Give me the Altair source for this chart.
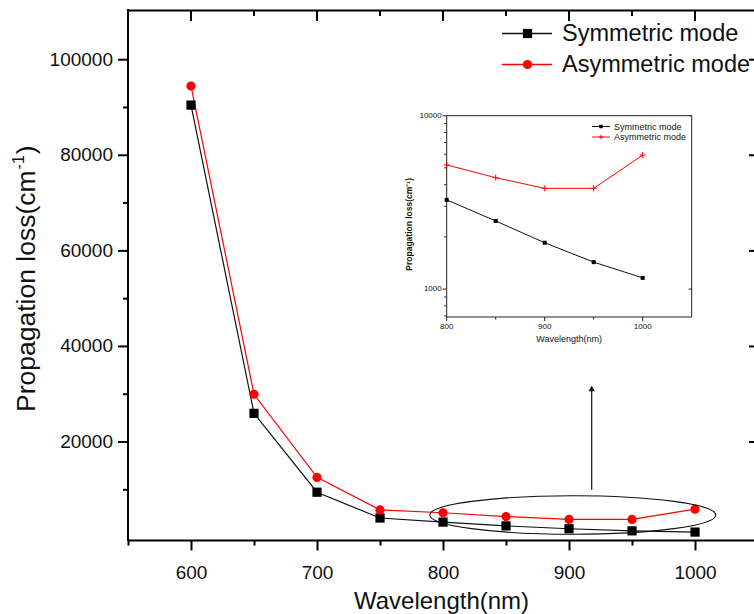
import altair as alt
import pandas as pd

# ---------------- data ----------------
wavelength = [600, 650, 700, 750, 800, 850, 900, 950, 1000]
symmetric = [90500, 26000, 9500, 4100, 3250, 2450, 1850, 1420, 1160]
asymmetric = [94500, 30000, 12600, 5800, 5200, 4400, 3800, 3800, 5950]

inset_wavelength = [800, 850, 900, 950, 1000]
inset_symmetric = [3270, 2470, 1850, 1430, 1160]
inset_asymmetric = [5200, 4390, 3810, 3810, 5930]

x_major = [600, 700, 800, 900, 1000]
x_minor = [550, 650, 750, 850, 950]
y_major = [20000, 40000, 60000, 80000, 100000]
y_minor = [10000, 30000, 50000, 70000, 90000]

inset_x_major = [800, 900, 1000]
inset_x_minor = [850, 950]
inset_y_major = [1000, 10000]
inset_y_minor = [700, 800, 900, 2000, 3000, 4000, 5000, 6000, 7000, 8000, 9000]

series_names = ["Symmetric mode", "Asymmetric mode"]
y_title_parts = ["Propagation loss(cm", "-1", ")"]

# annotation (ellipse around 800-1000 nm and arrow to the inset)
ellipse_center = {"x": 903, "y": 4730}
arrow = {"x": 918, "y1": 10000, "y2": 31200}

FONT = "Liberation Sans"
TXT = "#111111"
W, H = 626, 530

df_sym = pd.DataFrame({"wavelength": wavelength, "loss": symmetric})
df_asym = pd.DataFrame({"wavelength": wavelength, "loss": asymmetric})
df_isym = pd.DataFrame({"wavelength": inset_wavelength, "loss": inset_symmetric})
df_iasym = pd.DataFrame({"wavelength": inset_wavelength, "loss": inset_asymmetric})

xs = alt.Scale(domain=[550, 1046.8], nice=False, zero=False)
ys = alt.Scale(domain=[-500, 110400], nice=False, zero=False)


def cond(test, a, b):
    return {"condition": {"test": test, "value": a}, "value": b}


x_bottom = alt.Axis(
    orient="bottom", values=sorted(x_major + x_minor), format="d",
    labelExpr="datum.value % 100 == 0 ? datum.label : ''",
    tickSize=cond("datum.value % 100 == 0", 10, 5), tickWidth=2, tickColor="black",
    domainColor="black", domainWidth=2, grid=False,
    labelFont=FONT, labelFontSize=19, labelColor=TXT, labelPadding=13,
    title="Wavelength(nm)", titleFont=FONT, titleFontSize=24, titleFontWeight="normal",
    titleColor=TXT, titlePadding=7,
)
x_top = alt.Axis(orient="top", labels=False, ticks=False, domainColor="black",
                 domainWidth=2, grid=False, title=None)

# ---------------- main plot ----------------
sym_line = alt.Chart(df_sym).mark_line(color="#111111", strokeWidth=1.2).encode(
    x=alt.X("wavelength:Q", scale=xs, axis=x_bottom),
    y=alt.Y("loss:Q", scale=ys, axis=None),
)
sym_pts = alt.Chart(df_sym).mark_point(shape="square", filled=True, color="black",
                                       size=85, opacity=1).encode(
    x=alt.X("wavelength:Q", scale=xs, axis=None),
    y=alt.Y("loss:Q", scale=ys, axis=None),
)
asym_line = alt.Chart(df_asym).mark_line(color="#ff0000", strokeWidth=1.2).encode(
    x=alt.X("wavelength:Q", scale=xs, axis=None),
    y=alt.Y("loss:Q", scale=ys, axis=None),
)
asym_pts = alt.Chart(df_asym).mark_point(shape="circle", filled=True, color="#ff0000",
                                         size=85, opacity=1).encode(
    x=alt.X("wavelength:Q", scale=xs, axis=None),
    y=alt.Y("loss:Q", scale=ys, axis=None),
)

# frame ticks drawn by hand (top inward, right inward, left outward)
ymaj = pd.DataFrame({"v": y_major, "lab": [str(v) for v in y_major]})
ymin = pd.DataFrame({"v": y_minor})
top_major = alt.Chart(pd.DataFrame({"v": x_major})).mark_rule(color="black", strokeWidth=2).encode(
    x=alt.X("v:Q", scale=xs, axis=x_top), y=alt.value(0), y2=alt.value(11))
top_minor = alt.Chart(pd.DataFrame({"v": x_minor[1:]})).mark_rule(color="black", strokeWidth=2).encode(
    x=alt.X("v:Q", scale=xs, axis=None), y=alt.value(0), y2=alt.value(6))
right_major = alt.Chart(ymaj).mark_rule(color="black", strokeWidth=2).encode(
    y=alt.Y("v:Q", scale=ys, axis=None), x=alt.value(W - 5), x2=alt.value(W))

left_domain = alt.Chart(pd.DataFrame({"a": [0]})).mark_rule(color="black", strokeWidth=2).encode(
    x=alt.value(0), y=alt.value(-1), y2=alt.value(H + 1))
left_major = alt.Chart(ymaj).mark_rule(color="black", strokeWidth=2).encode(
    y=alt.Y("v:Q", scale=ys, axis=None), x=alt.value(-10), x2=alt.value(0))
left_minor = alt.Chart(ymin).mark_rule(color="black", strokeWidth=2).encode(
    y=alt.Y("v:Q", scale=ys, axis=None), x=alt.value(-5), x2=alt.value(0))
left_labels = alt.Chart(ymaj).mark_text(align="right", baseline="middle", font=FONT,
                                        fontSize=19, color=TXT).encode(
    y=alt.Y("v:Q", scale=ys, axis=None), x=alt.value(-15), text="lab:N")

# rotated y title with a real superscript
TX, TY0, TFS = -101, 402, 26.5
main_w = 9.115 * TFS
sup_fs = 16
sup_w = 0.889 * sup_fs
title_df = pd.DataFrame({"t": [y_title_parts[0]]})
sup_df = pd.DataFrame({"t": [y_title_parts[1]]})
close_df = pd.DataFrame({"t": [y_title_parts[2]]})
left_title = [
    alt.Chart(title_df).mark_text(align="left", baseline="middle", angle=270, font=FONT,
                                  fontSize=TFS, color=TXT).encode(
        x=alt.value(TX), y=alt.value(TY0), text="t:N"),
    alt.Chart(sup_df).mark_text(align="left", baseline="middle", angle=270, font=FONT,
                                fontSize=sup_fs, color=TXT).encode(
        x=alt.value(TX - 8), y=alt.value(TY0 - main_w - 1), text="t:N"),
    alt.Chart(close_df).mark_text(align="left", baseline="middle", angle=270, font=FONT,
                                  fontSize=TFS, color=TXT).encode(
        x=alt.value(TX), y=alt.value(TY0 - main_w - sup_w - 2), text="t:N"),
]

ellipse = alt.Chart(pd.DataFrame([ellipse_center])).mark_point(
    shape="M -1 0 A 1 0.135 0 1 1 1 0 A 1 0.135 0 1 1 -1 0 Z",
    size=286 * 286, filled=False, stroke="#111111", strokeWidth=1.1, opacity=1,
).encode(x=alt.X("x:Q", scale=xs, axis=None), y=alt.Y("y:Q", scale=ys, axis=None))

arrow_df = pd.DataFrame([arrow])
arrow_line = alt.Chart(arrow_df).mark_rule(color="#111111", strokeWidth=1.2).encode(
    x=alt.X("x:Q", scale=xs, axis=None),
    y=alt.Y("y1:Q", scale=ys, axis=None), y2="y2:Q")
arrow_head = alt.Chart(arrow_df).mark_point(shape="triangle-up", filled=True, color="#111111",
                                            size=40, opacity=1).encode(
    x=alt.X("x:Q", scale=xs, axis=None), y=alt.Y("y2:Q", scale=ys, axis=None))

# legend (drawn as marks)
leg_df = pd.DataFrame({"label": [series_names[0]]})
leg_df2 = pd.DataFrame({"label": [series_names[1]]})
LX0, LX1, LXM, LXT = 374, 424, 399.5, 434
LY1, LY2 = 23.5, 54.5
leg = [
    alt.Chart(leg_df).mark_rule(color="#111111", strokeWidth=1.3).encode(
        x=alt.value(LX0), x2=alt.value(LX1), y=alt.value(LY1)),
    alt.Chart(leg_df).mark_point(shape="square", filled=True, color="black", size=85, opacity=1).encode(
        x=alt.value(LXM), y=alt.value(LY1)),
    alt.Chart(leg_df).mark_text(align="left", baseline="middle", font=FONT, fontSize=23.5, color=TXT).encode(
        x=alt.value(LXT), y=alt.value(LY1), text="label:N"),
    alt.Chart(leg_df2).mark_rule(color="#ff0000", strokeWidth=1.3).encode(
        x=alt.value(LX0), x2=alt.value(LX1), y=alt.value(LY2)),
    alt.Chart(leg_df2).mark_point(shape="circle", filled=True, color="#ff0000", size=85, opacity=1).encode(
        x=alt.value(LXM), y=alt.value(LY2)),
    alt.Chart(leg_df2).mark_text(align="left", baseline="middle", font=FONT, fontSize=23.5, color=TXT).encode(
        x=alt.value(LXT), y=alt.value(LY2), text="label:N"),
]

main = alt.layer(sym_line, asym_line, sym_pts, asym_pts, top_major, top_minor, right_major,
                 left_domain, left_major, left_minor, left_labels, *left_title,
                 ellipse, arrow_line, arrow_head, *leg)

# ---------------- inset (axes drawn by hand through the inset scales) ----------------
IX0, IX1 = 318.7, 563.7
IY0, IY1 = 105.7, 307.0
ixs = alt.Scale(domain=[800, 1050], range=[IX0, IX1], nice=False, zero=False)
iys = alt.Scale(type="log", domain=[690, 10000], range=[IY1, IY0], nice=False)
IC = "#222222"

frame = alt.Chart(pd.DataFrame({"x0": [800], "x1": [1050], "y0": [690], "y1": [10000]})).mark_rect(
    filled=False, stroke=IC, strokeWidth=1).encode(
    x=alt.X("x0:Q", scale=ixs, axis=None), x2="x1:Q",
    y=alt.Y("y0:Q", scale=iys, axis=None), y2="y1:Q")

ixmaj = pd.DataFrame({"v": inset_x_major, "lab": [str(v) for v in inset_x_major]})
ixmin = pd.DataFrame({"v": inset_x_minor})
iymaj = pd.DataFrame({"v": inset_y_major, "lab": [str(v) for v in inset_y_major]})
iymin = pd.DataFrame({"v": inset_y_minor})

i_axes = [
    alt.Chart(ixmaj).mark_rule(color=IC, strokeWidth=1).encode(
        x=alt.X("v:Q", scale=ixs, axis=None), y=alt.value(IY1), y2=alt.value(IY1 + 4)),
    alt.Chart(ixmin).mark_rule(color=IC, strokeWidth=1).encode(
        x=alt.X("v:Q", scale=ixs, axis=None), y=alt.value(IY1), y2=alt.value(IY1 + 2.5)),
    alt.Chart(ixmaj).mark_text(baseline="top", font=FONT, fontSize=8, color=TXT).encode(
        x=alt.X("v:Q", scale=ixs, axis=None), y=alt.value(IY1 + 6), text="lab:N"),
    alt.Chart(iymaj).mark_rule(color=IC, strokeWidth=1).encode(
        y=alt.Y("v:Q", scale=iys, axis=None), x=alt.value(IX0 - 4), x2=alt.value(IX0)),
    alt.Chart(iymin).mark_rule(color=IC, strokeWidth=1).encode(
        y=alt.Y("v:Q", scale=iys, axis=None), x=alt.value(IX0 - 2.5), x2=alt.value(IX0)),
    alt.Chart(iymaj).mark_rule(color=IC, strokeWidth=1).encode(
        y=alt.Y("v:Q", scale=iys, axis=None), x=alt.value(IX1 - 3), x2=alt.value(IX1)),
    alt.Chart(iymaj).mark_text(align="right", baseline="middle", font=FONT, fontSize=8, color=TXT).encode(
        y=alt.Y("v:Q", scale=iys, axis=None), x=alt.value(IX0 - 5), text="lab:N"),
    alt.Chart(pd.DataFrame({"t": ["Wavelength(nm)"]})).mark_text(
        baseline="middle", font=FONT, fontSize=9, color=TXT).encode(
        x=alt.value((IX0 + IX1) / 2), y=alt.value(IY1 + 22), text="t:N"),
    alt.Chart(pd.DataFrame({"t": ["Propagation loss(cm⁻¹)"]})).mark_text(
        baseline="middle", angle=270, font=FONT, fontSize=8.5, fontWeight="bold", color=TXT).encode(
        x=alt.value(IX0 - 38), y=alt.value((IY0 + IY1) / 2 + 8), text="t:N"),
]

i_sym_line = alt.Chart(df_isym).mark_line(color="#111111", strokeWidth=1).encode(
    x=alt.X("wavelength:Q", scale=ixs, axis=None),
    y=alt.Y("loss:Q", scale=iys, axis=None),
)
i_asym_line = alt.Chart(df_iasym).mark_line(color="#ff0000", strokeWidth=1).encode(
    x=alt.X("wavelength:Q", scale=ixs, axis=None),
    y=alt.Y("loss:Q", scale=iys, axis=None),
)
i_sym_pts = alt.Chart(df_isym).mark_point(shape="square", filled=True, color="black",
                                          size=16, opacity=1).encode(
    x=alt.X("wavelength:Q", scale=ixs, axis=None),
    y=alt.Y("loss:Q", scale=iys, axis=None),
)
i_asym_pts = alt.Chart(df_iasym).mark_point(shape="M -1 0 L 1 0 M 0 -1 L 0 1", filled=False,
                                            stroke="#ff0000", strokeWidth=1, size=36, opacity=1).encode(
    x=alt.X("wavelength:Q", scale=ixs, axis=None),
    y=alt.Y("loss:Q", scale=iys, axis=None),
)

IL0, IL1, ILM, ILT = 464, 482, 473, 486
ILY1, ILY2 = 116.5, 127
ileg = [
    alt.Chart(leg_df).mark_rule(color="#111111", strokeWidth=1).encode(
        x=alt.value(IL0), x2=alt.value(IL1), y=alt.value(ILY1)),
    alt.Chart(leg_df).mark_point(shape="square", filled=True, color="black", size=12, opacity=1).encode(
        x=alt.value(ILM), y=alt.value(ILY1)),
    alt.Chart(leg_df).mark_text(align="left", baseline="middle", font=FONT, fontSize=9, color=TXT).encode(
        x=alt.value(ILT), y=alt.value(ILY1), text="label:N"),
    alt.Chart(leg_df2).mark_rule(color="#ff0000", strokeWidth=1).encode(
        x=alt.value(IL0), x2=alt.value(IL1), y=alt.value(ILY2)),
    alt.Chart(leg_df2).mark_point(shape="M -1 0 L 1 0 M 0 -1 L 0 1", filled=False, stroke="#ff0000",
                                  strokeWidth=1, size=20, opacity=1).encode(
        x=alt.value(ILM), y=alt.value(ILY2)),
    alt.Chart(leg_df2).mark_text(align="left", baseline="middle", font=FONT, fontSize=9, color=TXT).encode(
        x=alt.value(ILT), y=alt.value(ILY2), text="label:N"),
]

inset = alt.layer(frame, *i_axes, i_sym_line, i_asym_line, i_sym_pts, i_asym_pts, *ileg)

chart = alt.layer(main, inset).resolve_scale(x="independent", y="independent").properties(
    width=W, height=H,
    padding={"left": 128, "top": 10, "right": 0, "bottom": 74},
    autosize=alt.AutoSizeParams(type="none"),
    background="white",
).configure_view(stroke=None)

chart.save("out.html", embed_options={"renderer": "svg", "actions": False})
